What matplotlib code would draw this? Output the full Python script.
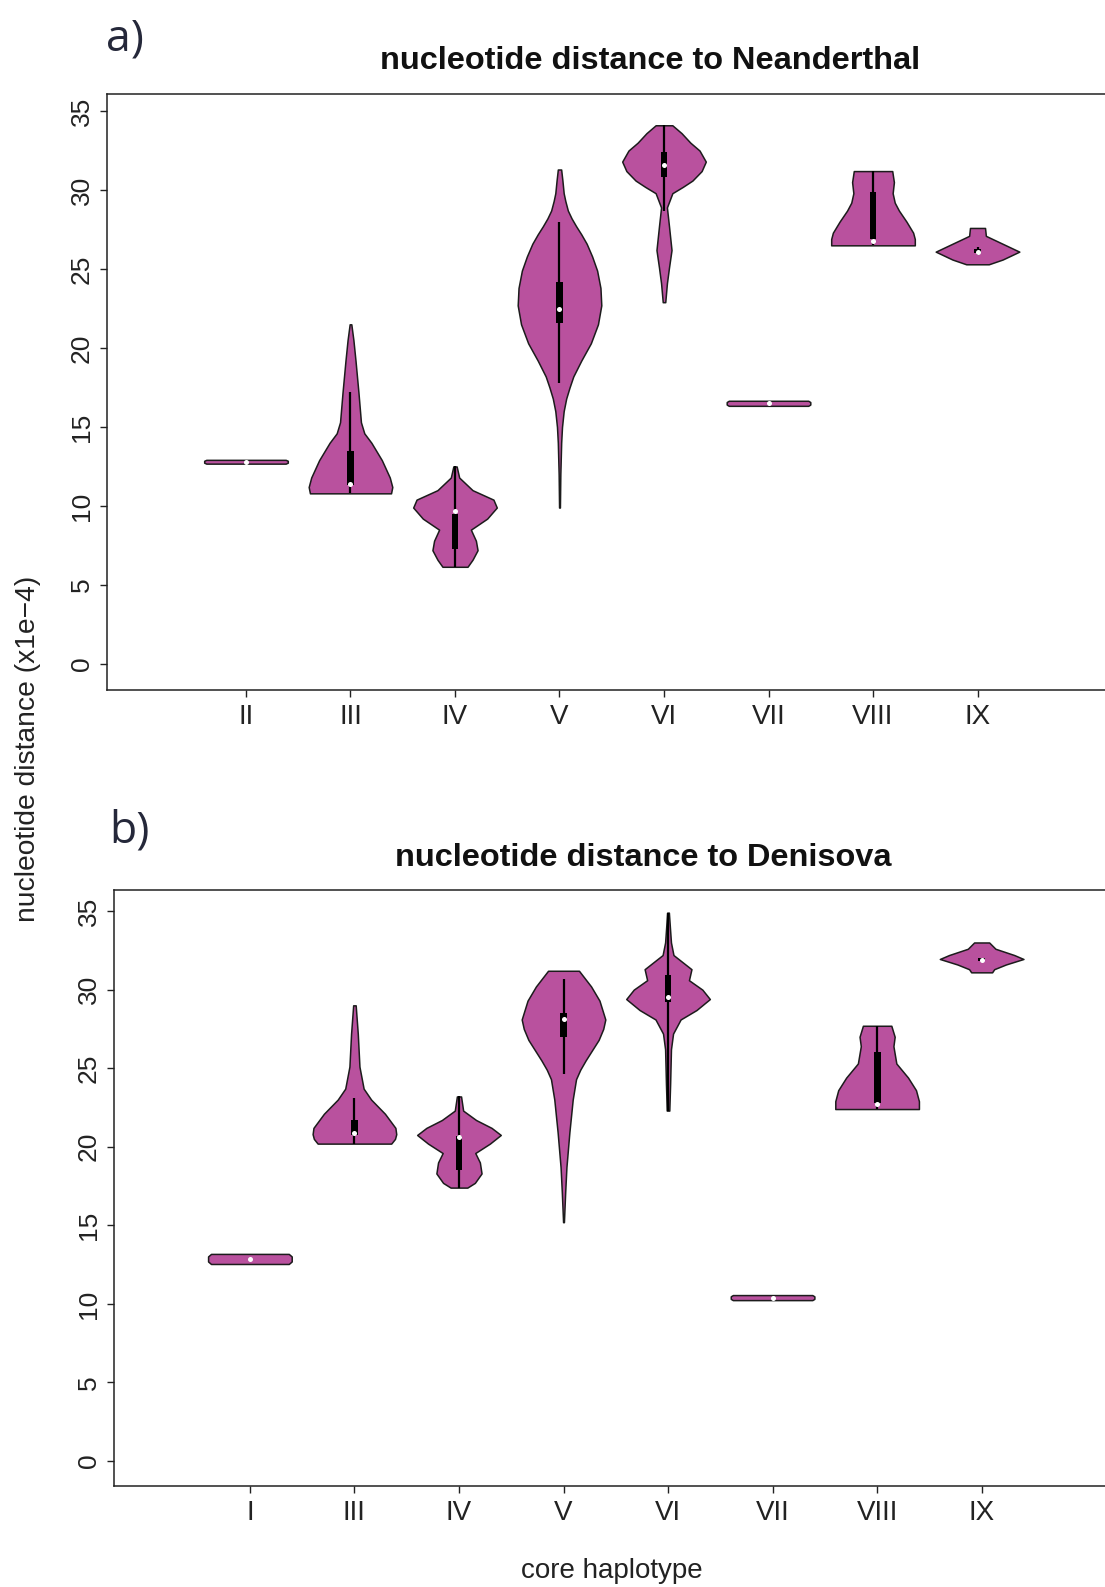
import numpy as np
import matplotlib
matplotlib.use('Agg')
import matplotlib.pyplot as plt

W, H = 1105, 1587
DPI = 100

violet = '#b9519e'
HALF = 0.4   # max half width of a violin, in x units

# ---- a) distance to Neanderthal ----
nean_labels = ['II', 'III', 'IV', 'V', 'VI', 'VII', 'VIII', 'IX']
nean_levels = [
    [12.68, 12.74, 12.86, 12.92],
    [10.8, 11.2, 11.8, 12.9, 14.0, 14.6, 15.3, 17.2, 19.2, 20.5, 21.5],
    [6.15, 6.6, 7.2, 7.8, 8.5, 9.2, 9.9, 10.4, 11.0, 11.8, 12.5],
    [9.9, 12.0, 14.0, 15.0, 16.0, 16.8, 17.5, 18.2, 19.2, 20.3, 21.5, 22.7, 23.8,
     24.9, 25.8, 26.6, 27.2, 27.7, 28.2, 28.7, 29.3, 29.8, 30.6, 31.3],
    [22.9, 24.1, 25.1, 26.2, 27.7, 28.9, 29.8, 30.2, 30.6, 31.2, 31.8, 32.5, 33.0, 33.6, 34.1],
    [16.34, 16.42, 16.58, 16.66],
    [26.5, 26.9, 27.3, 28.0, 28.7, 29.2, 29.8, 30.5, 31.2],
    [25.3, 25.6, 26.1, 26.6, 27.1, 27.6],
]
nean_widths = [
    [0.95, 1.0, 1.0, 0.95],
    [0.97, 1.0, 0.94, 0.75, 0.5, 0.33, 0.25, 0.19, 0.12, 0.07, 0.02],
    [0.3, 0.42, 0.54, 0.5, 0.38, 0.77, 1.0, 0.92, 0.42, 0.1, 0.04],
    [0.01, 0.02, 0.04, 0.06, 0.1, 0.16, 0.24, 0.33, 0.52, 0.75, 0.92, 1.0, 0.98,
     0.9, 0.78, 0.65, 0.52, 0.4, 0.29, 0.2, 0.14, 0.1, 0.07, 0.04],
    [0.03, 0.07, 0.12, 0.18, 0.12, 0.07, 0.2, 0.45, 0.68, 0.9, 1.0, 0.85, 0.63, 0.42, 0.2],
    [0.95, 1.0, 1.0, 0.95],
    [1.0, 1.0, 0.96, 0.8, 0.62, 0.52, 0.47, 0.5, 0.46],
    [0.27, 0.6, 1.0, 0.6, 0.2, 0.18],
]
nean_q1 = [12.8, 11.3, 7.3, 21.6, 30.8, 16.5, 26.9, 26.0]
nean_q3 = [12.8, 13.5, 9.5, 24.2, 32.4, 16.5, 29.9, 26.25]
nean_med = [12.8, 11.4, 9.7, 22.5, 31.6, 16.5, 26.8, 26.1]
nean_lo = [12.8, 10.8, 6.15, 17.8, 28.7, 16.5, 26.5, 25.9]
nean_hi = [12.8, 17.2, 12.5, 28.0, 34.1, 16.5, 31.2, 26.4]

# ---- b) distance to Denisova ----
deni_labels = ['I', 'III', 'IV', 'V', 'VI', 'VII', 'VIII', 'IX']
deni_levels = [
    [12.54, 12.7, 13.02, 13.18],
    [20.2, 20.5, 20.8, 21.2, 22.1, 23.0, 23.7, 25.1, 27.2, 29.0],
    [17.4, 17.7, 18.3, 19.0, 19.6, 20.2, 20.75, 21.2, 21.7, 22.3, 23.2],
    [15.2, 17.1, 18.7, 20.9, 23.0, 24.3, 24.9, 25.5, 26.8, 27.5, 28.1, 29.3, 30.2, 31.2],
    [22.3, 24.0, 26.2, 27.2, 28.1, 28.7, 29.4, 30.0, 30.6, 31.3, 32.2, 33.0, 34.9],
    [10.24, 10.32, 10.48, 10.56],
    [22.4, 22.9, 23.6, 24.4, 25.3, 26.4, 27.0, 27.7],
    [31.1, 31.3, 31.6, 31.95, 32.2, 32.6, 33.0],
]
deni_widths = [
    [0.93, 1.0, 1.0, 0.93],
    [0.88, 0.97, 1.0, 0.98, 0.73, 0.4, 0.22, 0.12, 0.08, 0.03],
    [0.2, 0.38, 0.54, 0.5, 0.39, 0.74, 1.0, 0.78, 0.41, 0.1, 0.05],
    [0.01, 0.04, 0.07, 0.14, 0.22, 0.3, 0.4, 0.53, 0.84, 0.95, 1.0, 0.86, 0.66, 0.37],
    [0.03, 0.05, 0.07, 0.12, 0.3, 0.68, 1.0, 0.82, 0.5, 0.56, 0.13, 0.07, 0.02],
    [0.95, 1.0, 1.0, 0.95],
    [1.0, 1.0, 0.93, 0.74, 0.46, 0.39, 0.42, 0.34],
    [0.25, 0.3, 0.58, 1.0, 0.78, 0.33, 0.18],
]
deni_q1 = [12.86, 20.75, 18.5, 27.0, 29.2, 10.4, 22.8, 31.8]
deni_q3 = [12.86, 21.7, 20.7, 28.5, 30.9, 10.4, 26.0, 32.0]
deni_med = [12.86, 20.9, 20.6, 28.1, 29.5, 10.4, 22.7, 31.9]
deni_lo = [12.86, 20.2, 17.4, 24.6, 22.3, 10.4, 22.4, 31.8]
deni_hi = [12.86, 23.1, 23.2, 30.7, 34.9, 10.4, 27.7, 32.0]

yticks = [0, 5, 10, 15, 20, 25, 30, 35]

plt.rcParams['font.family'] = ['Liberation Sans', 'DejaVu Sans']


def draw_panel(ax, labels, levels, widths, q1, q3, med, lo, hi):
    pos = np.arange(1, len(labels) + 1)
    for p, ys, ws in zip(pos, levels, widths):
        ys = np.array(ys)
        ws = np.array(ws) * HALF
        ax.fill_betweenx(ys, p - ws, p + ws, facecolor=violet,
                         edgecolor='#1c1c1c', linewidth=1.1, zorder=2)
    ax.vlines(pos, lo, hi, colors='black', linewidth=1.6, zorder=3)
    ax.bar(pos, np.array(q3) - np.array(q1), bottom=q1, width=0.065,
           color='black', zorder=4)
    ax.scatter(pos, med, s=13, c='white', linewidths=0, zorder=5)

    ax.set_xticks(pos)
    ax.set_xticklabels(labels, fontsize=20, color='#222222')
    ax.set_yticks(yticks)
    ax.set_yticklabels([str(t) for t in yticks], rotation=90, va='center',
                       fontsize=19, color='#222222')
    ax.tick_params(axis='both', length=5, width=1.0, color='#222222')
    ax.tick_params(axis='y', pad=4.5)
    ax.tick_params(axis='x', pad=5)
    ax.spines['right'].set_visible(False)
    for s in ['left', 'top', 'bottom']:
        ax.spines[s].set_linewidth(1.1)
        ax.spines[s].set_color('#222222')


fig = plt.figure(figsize=(W / DPI, H / DPI), dpi=DPI)

ax_a = fig.add_axes([107 / W, 1 - 690 / H, 1 - 107 / W, (690 - 94) / H])
draw_panel(ax_a, nean_labels, nean_levels, nean_widths,
           nean_q1, nean_q3, nean_med, nean_lo, nean_hi)
ax_a.set_xlim(-0.33, 9.22)
ax_a.set_ylim(-1.65, 36.08)

ax_b = fig.add_axes([114 / W, 1 - 1486 / H, 1 - 114 / W, (1486 - 890) / H])
draw_panel(ax_b, deni_labels, deni_levels, deni_widths,
           deni_q1, deni_q3, deni_med, deni_lo, deni_hi)
ax_b.set_xlim(-0.30, 9.18)
ax_b.set_ylim(-1.59, 36.34)

# titles and panel letters
fig.text(650 / W, 1 - 61 / H, 'nucleotide distance to Neanderthal',
         ha='center', va='center', fontsize=23.4, fontweight='bold', color='#111111')
fig.text(643 / W, 1 - 858 / H, 'nucleotide distance to Denisova',
         ha='center', va='center', fontsize=23.4, fontweight='bold', color='#111111')
fig.text(106 / W, 1 - 39 / H, 'a)', ha='left', va='center', fontsize=32,
         fontfamily=['Open Sans', 'DejaVu Sans'], color='#25283a')
fig.text(109 / W, 1 - 831 / H, 'b)', ha='left', va='center', fontsize=32,
         fontfamily=['Open Sans', 'DejaVu Sans'], color='#25283a')

# shared axis labels
fig.text(28 / W, 1 - 749 / H, 'nucleotide distance (x1e\u22124)', rotation=90,
         ha='center', va='center', fontsize=20.3, color='#222222')
fig.text(612 / W, 1 - 1571 / H, 'core haplotype', ha='center', va='center',
         fontsize=20, color='#222222')

fig.savefig('out.png', dpi=DPI)
